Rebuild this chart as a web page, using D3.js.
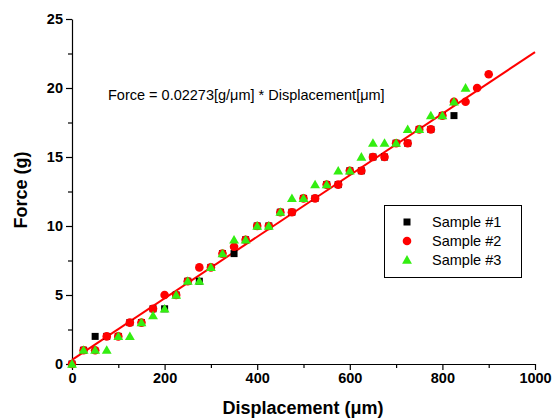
<!DOCTYPE html>
<html><head><meta charset="utf-8">
<script src="https://cdn.jsdelivr.net/npm/d3@7"></script>
<style>body{margin:0;background:#fff}svg{display:block}text{font-family:"Liberation Sans",Arial,Helvetica,sans-serif}</style>
</head><body>
<svg id="c" width="558" height="419"></svg>
<script>
const sample1X = [0,25,50,75,100,125,150,175,200,225,250,275,300,325,350,375,400,425,450,475,500,525,550,575,600,625,650,675,700,725,750,775,800,825];
const sample1Y = [0,1,2,2,2,3,3,4,4,5,6,6,7,8,8,9,10,10,11,11,12,12,13,13,14,14,15,15,16,16,17,17,18,18];
const sample2X = [0,25,50,75,100,125,150,175,200,225,250,275,300,325,350,375,400,425,450,475,500,525,550,575,600,625,650,675,700,725,750,775,800,825,850,875,900];
const sample2Y = [0,1,1,2,2,3,3,4,5,5,6,7,7,8,8.5,9,10,10,11,11,12,12,13,13,14,14,15,15,16,16,17,17,18,19,19,20,21];
const sample3X = [0,25,50,75,100,125,150,175,200,225,250,275,300,325,350,375,400,425,450,475,500,525,550,575,600,625,650,675,700,725,750,775,800,825,850];
const sample3Y = [0,1,1,1,2,2,3,3.5,4,5,6,6,7,8,9,9,10,10,11,12,12,13,13,14,14,15,16,16,16,17,17,18,18,19,20];
const fitX = [0,1000];
const fitY = [0.3,22.6];
const xTicks = [0,200,400,600,800,1000];
const yTicks = [0,5,10,15,20,25];
const legendLabels = ["Sample #1","Sample #2","Sample #3"];

const svg = d3.select("#c");
const x = d3.scaleLinear().domain([0,1000]).range([72,535]);
const y = d3.scaleLinear().domain([0,25]).range([364,19]);

// axes
svg.append("g").attr("transform","translate(0,364)")
  .call(d3.axisBottom(x).tickValues(xTicks).tickFormat(d3.format("d")).tickSize(6).tickPadding(3).tickSizeOuter(0));
svg.append("g").attr("transform","translate(0,364)")
  .call(d3.axisBottom(x).tickValues(d3.range(100,1000,200)).tickSize(4).tickFormat("").tickSizeOuter(0))
  .select(".domain").remove();
svg.append("g").attr("transform","translate(72,0)")
  .call(d3.axisLeft(y).tickValues(yTicks).tickFormat(d3.format("d")).tickSize(6).tickPadding(3).tickSizeOuter(0));
svg.append("g").attr("transform","translate(72,0)")
  .call(d3.axisLeft(y).tickValues(d3.range(2.5,25,5)).tickSize(4).tickFormat("").tickSizeOuter(0))
  .select(".domain").remove();
svg.selectAll(".tick text").attr("font-size",14.5).attr("font-weight","bold")
  .attr("font-family","'Liberation Sans',Arial,sans-serif").attr("fill","#000");
svg.selectAll(".domain, .tick line").attr("stroke","#000").attr("stroke-width",1.2);

// labels
svg.append("text").attr("x",303).attr("y",414).attr("text-anchor","middle")
  .attr("font-size",18).attr("font-weight","bold").text("Displacement (\u03bcm)");
svg.append("text").attr("transform","translate(27,190) rotate(-90)").attr("text-anchor","middle")
  .attr("font-size",18).attr("font-weight","bold").text("Force (g)");

// fit line
svg.append("line").attr("x1",x(fitX[0])).attr("y1",y(fitY[0])).attr("x2",x(fitX[1])).attr("y2",y(fitY[1]))
  .attr("stroke","#f00").attr("stroke-width",2);

// points
const sq = 7;
svg.append("g").selectAll("rect").data(sample1X.map((d,i)=>[d,sample1Y[i]])).join("rect")
  .attr("x",d=>x(d[0])-sq/2).attr("y",d=>y(d[1])-sq/2).attr("width",sq).attr("height",sq).attr("fill","#000");
svg.append("g").selectAll("circle").data(sample2X.map((d,i)=>[d,sample2Y[i]])).join("circle")
  .attr("cx",d=>x(d[0])).attr("cy",d=>y(d[1])).attr("r",4.3).attr("fill","#f00");
const tri = d3.symbol().type(d3.symbolTriangle).size(42);
svg.append("g").selectAll("path").data(sample3X.map((d,i)=>[d,sample3Y[i]])).join("path")
  .attr("transform",d=>`translate(${x(d[0])},${y(d[1])+0.8})`).attr("d",tri).attr("fill","#33ee11");

// equation
svg.append("text").attr("x",108).attr("y",100).attr("font-size",14.5)
  .text("Force = 0.02273[g/\u03bcm] * Displacement[\u03bcm]");

// legend
const lg = svg.append("g");
lg.append("rect").attr("x",384.5).attr("y",205.5).attr("width",137).attr("height",72)
  .attr("fill","#fff").attr("stroke","#000").attr("stroke-width",1);
const rows = [222,241,260];
lg.append("rect").attr("x",407-sq/2).attr("y",rows[0]-sq/2).attr("width",sq).attr("height",sq).attr("fill","#000");
lg.append("circle").attr("cx",407).attr("cy",rows[1]).attr("r",4.3).attr("fill","#f00");
lg.append("path").attr("transform",`translate(407,${rows[2]+0.8})`).attr("d",tri).attr("fill","#33ee11");
legendLabels.forEach((t,i)=>{
  lg.append("text").attr("x",432).attr("y",rows[i]+5).attr("font-size",14.5).text(t);
});
</script>
</body></html>
